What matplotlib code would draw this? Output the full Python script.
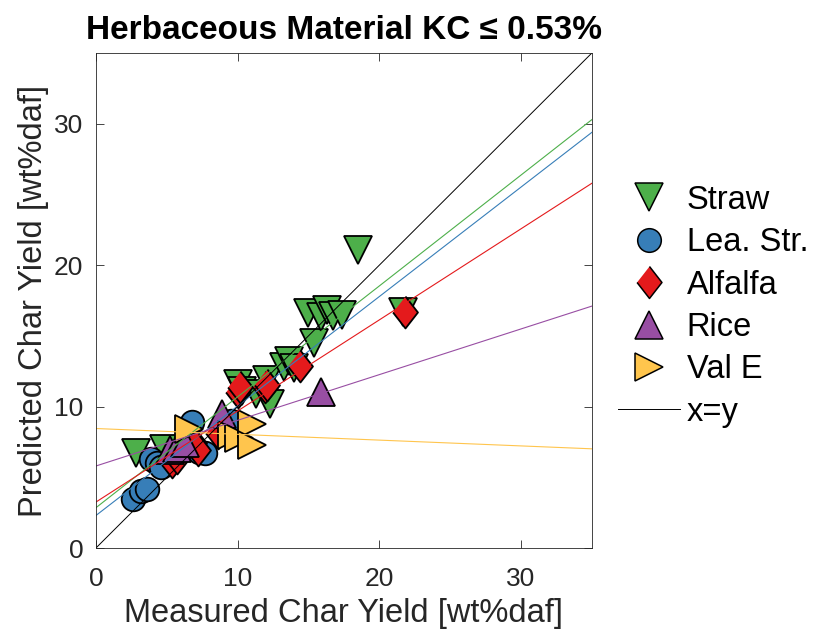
import numpy as np
import matplotlib
matplotlib.use('Agg')
import matplotlib.pyplot as plt
from matplotlib.lines import Line2D

plt.rcParams['font.family'] = ['Liberation Sans', 'DejaVu Sans']

# measured / predicted char yield per material
straw_x = [2.8, 4.8, 10.0, 10.3, 11.3, 12.1, 12.3, 13.3, 13.6, 14.0, 15.4, 15.0, 15.9, 16.3, 16.7, 17.4, 18.5, 21.7]
straw_y = [6.7, 7.0, 11.6, 11.1, 10.9, 11.9, 10.2, 12.8, 13.2, 12.7, 14.5, 16.6, 16.3, 16.8, 16.4, 16.5, 21.1, 16.7]

lea_x = [2.6, 3.2, 3.6, 3.9, 4.3, 4.6, 6.8, 7.3, 7.7, 9.5]
lea_y = [3.5, 4.0, 4.2, 6.3, 6.0, 5.7, 8.9, 6.8, 6.7, 9.0]

alf_x = [5.4, 5.7, 6.9, 7.2, 8.6, 10.0, 10.2, 11.9, 12.1, 14.4, 21.8]
alf_y = [6.1, 6.4, 7.4, 6.9, 8.1, 11.0, 11.4, 11.4, 11.5, 12.9, 16.7]

rice_x = [5.2, 5.7, 6.3, 8.9, 15.9]
rice_y = [6.9, 7.1, 7.4, 9.5, 11.0]

vale_x = [6.6, 9.6, 10.1, 11.0, 11.0]
vale_y = [8.4, 8.0, 7.8, 8.8, 7.3]

# linear fits as drawn (intercept, slope)
fit_b = [2.85, 2.3, 3.25, 5.8, 8.45]
fit_m = [0.784, 0.774, 0.644, 0.323, -0.041]

names = ['Straw', 'Lea. Str.', 'Alfalfa', 'Rice', 'Val E']
colors = ['#4DAF4A', '#377EB8', '#E41A1C', '#984EA3', '#FFC54D']
markers = ['v', 'o', [(0, 1), (0.78, 0), (0, -1), (-0.78, 0)], '^', '>']
msizes = [20, 17, 23, 20, 20]

xs = [straw_x, lea_x, alf_x, rice_x, vale_x]
ys = [straw_y, lea_y, alf_y, rice_y, vale_y]

fig = plt.figure(figsize=(8.13, 6.34), dpi=100)
ax = fig.add_axes([0.118, 0.1356, 0.610, 0.7808])

for x, y, c, mk, ms in zip(xs, ys, colors, markers, msizes):
    ax.plot(x, y, linestyle='none', marker=mk, markersize=ms,
            markerfacecolor=c, markeredgecolor='k', markeredgewidth=1.3)

xx = np.array([0, 35])
for b, m, c in zip(fit_b, fit_m, colors):
    ax.plot(xx, b + m * xx, color=c, linewidth=0.8)
ax.plot(xx, xx, color='k', linewidth=0.7)

ax.set_xlim(0, 35)
ax.set_ylim(0, 35)
ax.set_xticks([0, 10, 20, 30])
ax.set_yticks([0, 10, 20, 30])
ax.tick_params(direction='in', top=True, right=True, labelsize=19, length=6,
               width=0.6, colors='#262626')
ax.tick_params(axis='x', pad=14)
ax.tick_params(axis='y', pad=9)
for s in ax.spines.values():
    s.set_linewidth(0.6)
    s.set_color('#262626')

ax.set_xlabel('Measured Char Yield [wt%daf]', fontsize=23.5, color='#262626', labelpad=5)
ax.set_ylabel('Predicted Char Yield [wt%daf]', fontsize=23.5, color='#262626', labelpad=4)
ax.set_title('Herbaceous Material KC \u2264 0.53%', fontsize=24, fontweight='bold', pad=10)

handles = []
for n, c, mk, ms in zip(names, colors, markers, msizes):
    handles.append(Line2D([], [], linestyle='none', marker=mk, markersize=ms,
                          markerfacecolor=c, markeredgecolor='k', markeredgewidth=1.1, label=n))
handles.append(Line2D([], [], color='k', linewidth=0.7, label='x=y'))
fig.legend(handles=handles, loc='center left', bbox_to_anchor=(0.760, 0.517),
           frameon=False, fontsize=23.5, handlelength=1.9, labelspacing=0.35,
           handletextpad=0.21, borderpad=0, borderaxespad=0)

fig.savefig('out.png', dpi=100)
